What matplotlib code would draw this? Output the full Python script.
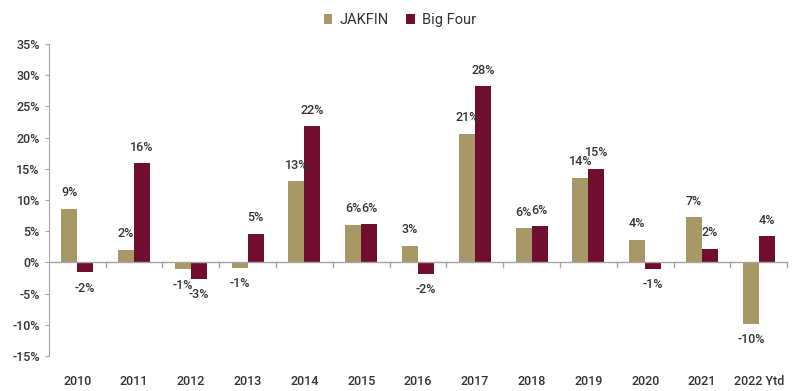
import matplotlib
matplotlib.use("Agg")
import matplotlib.pyplot as plt
import numpy as np

plt.rcParams['font.family'] = ['Roboto', 'DejaVu Sans']

# data (%)
years = ['2010', '2011', '2012', '2013', '2014', '2015', '2016',
         '2017', '2018', '2019', '2020', '2021', '2022 Ytd']
jakfin = [8.6, 2.0, -1.1, -0.85, 13.0, 6.0, 2.7, 20.6, 5.5, 13.6, 3.6, 7.2, -9.8]
big_four = [-1.6, 15.9, -2.6, 4.6, 21.8, 6.15, -1.8, 28.2, 5.8, 15.0, -1.0, 2.2, 4.2]
yticks = [-15, -10, -5, 0, 5, 10, 15, 20, 25, 30, 35]

c_jak = '#A89868'
c_big = '#710E2F'
txt = '#333333'
grey = '#A6A6A6'

fig = plt.figure(figsize=(8, 3.91), dpi=100)
ax = fig.add_axes([0.061, 0.0895, 0.923, 0.798])

x = np.arange(len(years))
w = 0.28
b1 = ax.bar(x - w / 2, jakfin, w, color=c_jak, label='JAKFIN')
b2 = ax.bar(x + w / 2, big_four, w, color=c_big, label='Big Four')

for bars, vals in ((b1, jakfin), (b2, big_four)):
    for r, v in zip(bars, vals):
        cx = r.get_x() + r.get_width() / 2
        off = 11.5 if v >= 0 else -11.5
        ax.annotate('%d%%' % round(v), (cx, v), xytext=(0, off),
                    textcoords='offset points', ha='center', va='center',
                    fontsize=9, color=txt, fontweight='medium')

ax.set_xlim(-0.5, len(years) - 0.5)
ax.set_ylim(-15, 35)
ax.set_yticks(yticks)
ax.set_yticklabels(['%d%%' % t for t in yticks])

for s in ('top', 'right', 'bottom'):
    ax.spines[s].set_visible(False)
ax.spines['left'].set_color(grey)
ax.axhline(0, color=grey, lw=1, zorder=3)

# category separators on the zero line
ax.set_xticks(x)
ax.set_xticklabels(years)
ax.tick_params(axis='x', length=0, pad=14, colors=txt, labelsize=9)
ax.tick_params(axis='y', length=3, color=grey, colors=txt, labelsize=9)
for t in ax.get_yticklines():
    t.set_color(grey)
for b in np.arange(0.5, len(years), 1.0):
    ax.plot([b, b], [0, -0.8], color=grey, lw=1, clip_on=False)

for lab in ax.get_xticklabels() + ax.get_yticklabels():
    lab.set_fontweight('medium')

fig.legend(handles=[b1, b2], loc='upper center', bbox_to_anchor=(0.5, 1.0),
           ncol=2, frameon=False, fontsize=10.5, handlelength=0.6,
           handleheight=0.6, columnspacing=1.2, handletextpad=0.5,
           labelcolor=txt)

fig.savefig('out.png', dpi=100)
